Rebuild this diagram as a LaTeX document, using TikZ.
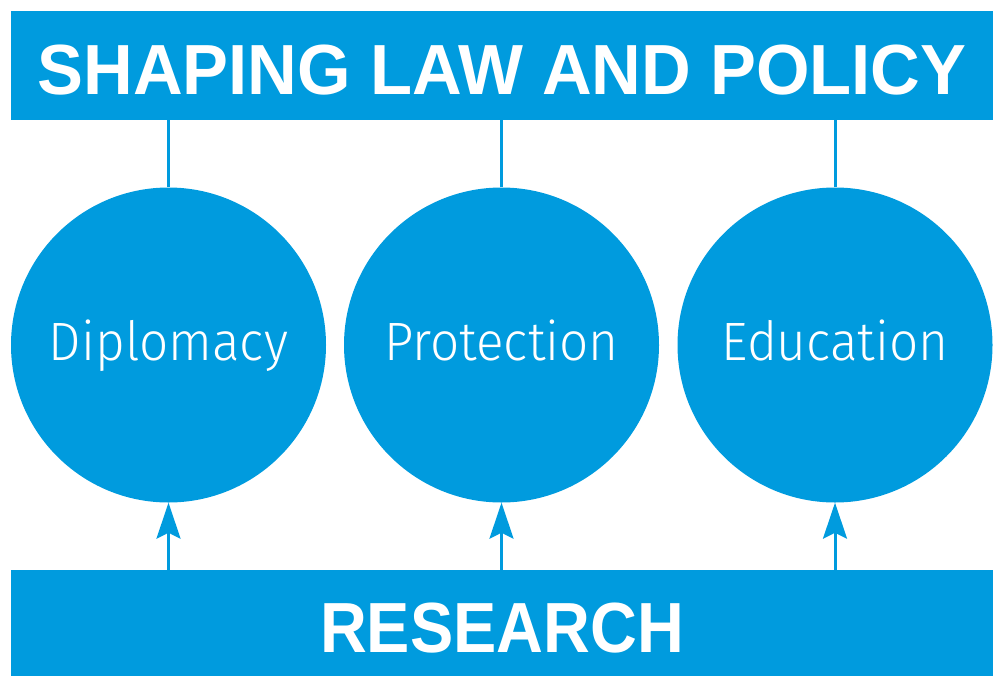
\documentclass[tikz,border=0pt]{standalone}
\usepackage{fontspec}
\setmainfont{Liberation Sans}
\newfontfamily\lightfont{Fira Sans Light}
\usetikzlibrary{arrows.meta}
\definecolor{brandblue}{RGB}{0,155,222}
\newcommand{\pillartext}[1]{\scalebox{0.95}[1]{#1}}
\tikzset{
  banner/.style={rectangle, fill=brandblue, draw=none, minimum width=982pt, inner sep=0pt, text=white, font=\fontsize{71}{71}\selectfont\bfseries, text depth=0pt},
  pillar/.style={circle, fill=brandblue, draw=none, minimum size=315pt, inner sep=0pt, text=white, font=\lightfont\fontsize{54}{54}\selectfont, text height=30pt, text depth=0pt},
  conn/.style={draw=brandblue, line width=3pt},
  arr/.style={draw=brandblue, line width=3pt, -{Stealth[length=36pt,width=24pt,inset=6pt]}}
}
\begin{document}
\begin{tikzpicture}[x=1pt,y=-1pt]
\useasboundingbox (0,0) rectangle (1006,675);
\node[banner, minimum height=109pt, text height=57pt] (top) at (502,65.5) {\scalebox{0.969}[1]{SHAPING LAW AND POLICY}};
\node[banner, minimum height=110pt, text height=54pt] (bot) at (502,625) {\scalebox{0.913}[1]{RESEARCH}};
\node[pillar] (c1) at (168.5,345) {\pillartext{Diplomacy}};
\node[pillar] (c2) at (501.5,345) {\pillartext{Protection}};
\node[pillar] (c3) at (835,345) {\pillartext{Education}};
\foreach \c in {c1,c2,c3}{
  \draw[conn] (\c.north) -- (\c.north |- top.south);
  \draw[arr] (\c.south |- bot.north) -- (\c.south);
}
\end{tikzpicture}
\end{document}
